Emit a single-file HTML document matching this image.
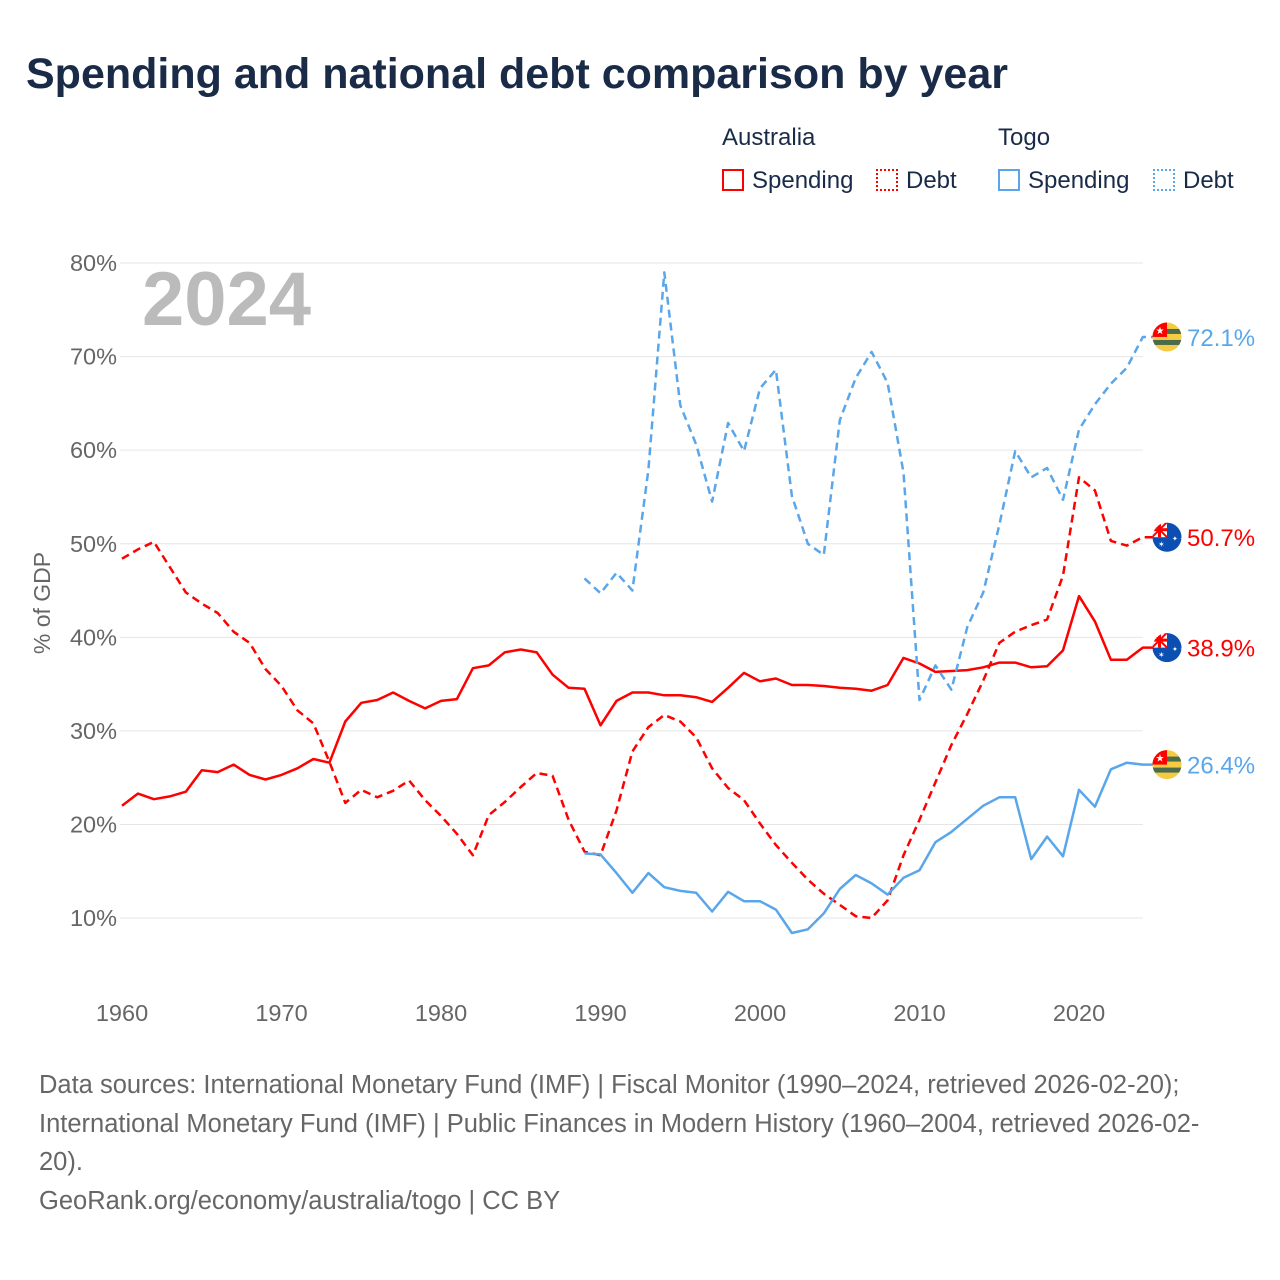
<!DOCTYPE html>
<html><head><meta charset="utf-8">
<style>
body{margin:0;background:#fff;font-family:"Liberation Sans",sans-serif;}
#wrap{position:relative;width:1280px;height:1280px;overflow:hidden;}
.t{position:absolute;white-space:nowrap;}
</style></head><body>
<div id="wrap">
<div class="t" style="left:26px;top:50px;font-size:43px;font-weight:bold;color:#1a2b48;">Spending and national debt comparison by year</div>
<div class="t" style="left:722px;top:124px;font-size:24px;color:#1a2b48;">Australia</div>
<div class="t" style="left:998px;top:124px;font-size:24px;color:#1a2b48;">Togo</div>
<div class="t" style="left:722px;top:167px;font-size:24px;color:#1a2b48;"><span style="display:inline-block;width:22px;height:22px;border:2px solid #f00;box-sizing:border-box;vertical-align:-3px;margin-right:8px"></span>Spending</div>
<div class="t" style="left:876px;top:167px;font-size:24px;color:#1a2b48;"><span style="display:inline-block;width:22px;height:22px;border:2px dotted #f00;box-sizing:border-box;vertical-align:-3px;margin-right:8px"></span>Debt</div>
<div class="t" style="left:998px;top:167px;font-size:24px;color:#1a2b48;"><span style="display:inline-block;width:22px;height:22px;border:2px solid #5aa6ea;box-sizing:border-box;vertical-align:-3px;margin-right:8px"></span>Spending</div>
<div class="t" style="left:1153px;top:167px;font-size:24px;color:#1a2b48;"><span style="display:inline-block;width:22px;height:22px;border:2px dotted #5aa6ea;box-sizing:border-box;vertical-align:-3px;margin-right:8px"></span>Debt</div>
<svg id="chart" width="1280" height="1280" style="position:absolute;left:0;top:0"></svg>
<div class="t" style="left:39px;top:1066px;font-size:25.5px;line-height:38.7px;color:#666;">Data sources: International Monetary Fund (IMF) | Fiscal Monitor (1990–2024, retrieved 2026-02-20);<br>International Monetary Fund (IMF) | Public Finances in Modern History (1960–2004, retrieved 2026-02-<br>20).<br>GeoRank.org/economy/australia/togo | CC BY</div>
</div>
<script>
const ausSpending=[22.0,23.3,22.7,23.0,23.5,25.8,25.6,26.4,25.3,24.8,25.3,26.0,27.0,26.6,31.0,33.0,33.3,34.1,33.2,32.4,33.2,33.4,36.7,37.0,38.4,38.7,38.4,36.0,34.6,34.5,30.6,33.2,34.1,34.1,33.8,33.8,33.6,33.1,34.6,36.2,35.3,35.6,34.9,34.9,34.8,34.6,34.5,34.3,34.9,37.8,37.2,36.3,36.4,36.5,36.8,37.3,37.3,36.8,36.9,38.6,44.4,41.7,37.6,37.6,38.9];
const ausDebt=[48.4,49.4,50.2,47.5,44.8,43.6,42.6,40.6,39.4,36.6,34.8,32.2,30.8,26.7,22.3,23.7,22.9,23.6,24.7,22.6,20.9,19.0,16.7,21.0,22.4,24.0,25.5,25.2,20.5,17.1,16.7,21.5,27.8,30.4,31.7,31.0,29.3,26.0,23.9,22.6,20.1,17.8,15.9,14.1,12.6,11.4,10.2,10.0,11.9,16.7,20.5,24.5,28.5,31.8,35.4,39.4,40.6,41.3,41.9,46.6,57.1,55.7,50.3,49.8,50.7];
const togoSpending=[16.9,16.8,14.8,12.7,14.8,13.3,12.9,12.7,10.7,12.8,11.8,11.8,10.9,8.4,8.8,10.5,13.1,14.6,13.7,12.5,14.3,15.1,18.1,19.2,20.6,22.0,22.9,22.9,16.3,18.7,16.6,23.7,21.9,25.9,26.6,26.4];
const togoDebt=[46.3,44.7,46.9,45.0,57.9,79.0,64.8,60.6,54.5,62.9,59.9,66.6,68.6,55.1,50.0,48.8,63.2,67.7,70.5,67.2,57.6,33.3,37.0,34.4,41.1,44.8,52.0,59.9,57.1,58.1,54.7,62.2,64.9,67.1,68.8,72.1];
const yTicks=[10,20,30,40,50,60,70,80];
const xTicks=[1960,1970,1980,1990,2000,2010,2020];
const ausStart=1960, togoStart=1989;
const NS="http://www.w3.org/2000/svg";
const svg=document.getElementById('chart');
const X=yr=>122+(yr-1960)*15.95;
const Y=v=>1011.6-v*9.357;
function mk(tag,attrs){const e=document.createElementNS(NS,tag);for(const k in attrs)e.setAttribute(k,attrs[k]);svg.appendChild(e);return e;}
yTicks.forEach(v=>{
 const g=mk('line',{x1:120,x2:1143,y1:Y(v),y2:Y(v),stroke:'#e6e6e6','stroke-width':1});
 
 
 const t=mk('text',{x:117,y:Y(v)+8,'text-anchor':'end','font-size':23.5,fill:'#666','font-family':'Liberation Sans, sans-serif'});
 t.textContent=v+'%';
 
 
});
xTicks.forEach(yr=>{
 const t=mk('text',{x:X(yr),y:1021,'text-anchor':'middle','font-size':23.5,fill:'#666','font-family':'Liberation Sans, sans-serif'});
 t.textContent=yr;
 
 
});
const yt=mk('text',{x:0,y:0,transform:'translate(50,603) rotate(-90)','text-anchor':'middle','font-size':23,fill:'#666','font-family':'Liberation Sans, sans-serif'});
yt.textContent='% of GDP';


const yr=mk('text',{x:142,y:325,'font-size':76,'font-weight':'bold',fill:'#bbb','font-family':'Liberation Sans, sans-serif'});
yr.textContent='2024';


function series(arr,start,color,dash,name){
 let d='';arr.forEach((v,i)=>{d+=(i?'L':'M')+X(start+i).toFixed(1)+','+Y(v).toFixed(1);});
 d+='L1160,'+Y(arr[arr.length-1]).toFixed(1);
 const p=mk('path',{d:d,fill:'none',stroke:color,'stroke-width':2.5,'stroke-dasharray':dash,'stroke-linejoin':'round'});
 
 
}
series(ausSpending,ausStart,'#f00','none','line-australia-spending');
series(ausDebt,ausStart,'#f00','8,5','line-australia-debt');
series(togoSpending,togoStart,'#5aa6ea','none','line-togo-spending');
series(togoDebt,togoStart,'#5aa6ea','8,5','line-togo-debt');
function flag(v,kind,color,name){
 const cy=Y(v),cx=1167;
 const g=document.createElementNS(NS,'g');svg.appendChild(g);
 
 
 const cp='cp'+name;
 g.innerHTML=`<clipPath id="${cp}"><circle cx="${cx}" cy="${cy}" r="14.5"/></clipPath><g clip-path="url(#${cp})">`+
 (kind==='togo'?`<rect x="${cx-15}" y="${cy-15}" width="30" height="30" fill="#f3cc44"/><rect x="${cx-15}" y="${cy-8}" width="30" height="5" fill="#4c6b4c"/><rect x="${cx-15}" y="${cy+3}" width="30" height="5" fill="#4c6b4c"/><rect x="${cx-15}" y="${cy-15}" width="15" height="15" fill="#f00"/><text x="${cx-7}" y="${cy-3}" font-size="10" fill="#fff" text-anchor="middle">★</text>`
 :`<rect x="${cx-15}" y="${cy-15}" width="30" height="30" fill="#0b4fb3"/><rect x="${cx-15}" y="${cy-15}" width="15" height="15" fill="#fff"/><path d="M${cx-15},${cy-15}L${cx},${cy}M${cx},${cy-15}L${cx-15},${cy}" stroke="#f00" stroke-width="2"/><rect x="${cx-15}" y="${cy-9}" width="15" height="3" fill="#f00"/><rect x="${cx-9}" y="${cy-15}" width="3" height="15" fill="#f00"/><text x="${cx+5}" y="${cy+4}" font-size="7" fill="#fff">✦ ✦</text><text x="${cx-9}" y="${cy+10}" font-size="8" fill="#fff">✶</text>`)+`</g>`;
 const t=mk('text',{x:1187,y:cy+9,'font-size':24,fill:color,'font-family':'Liberation Sans, sans-serif'});
 t.textContent=v.toFixed(1)+'%';
 
 
}
flag(togoDebt[togoDebt.length-1],'togo','#5aa6ea','togo-debt');
flag(ausDebt[ausDebt.length-1],'aus','#f00','australia-debt');
flag(ausSpending[ausSpending.length-1],'aus','#f00','australia-spending');
flag(togoSpending[togoSpending.length-1],'togo','#5aa6ea','togo-spending');
</script>
</body></html>
